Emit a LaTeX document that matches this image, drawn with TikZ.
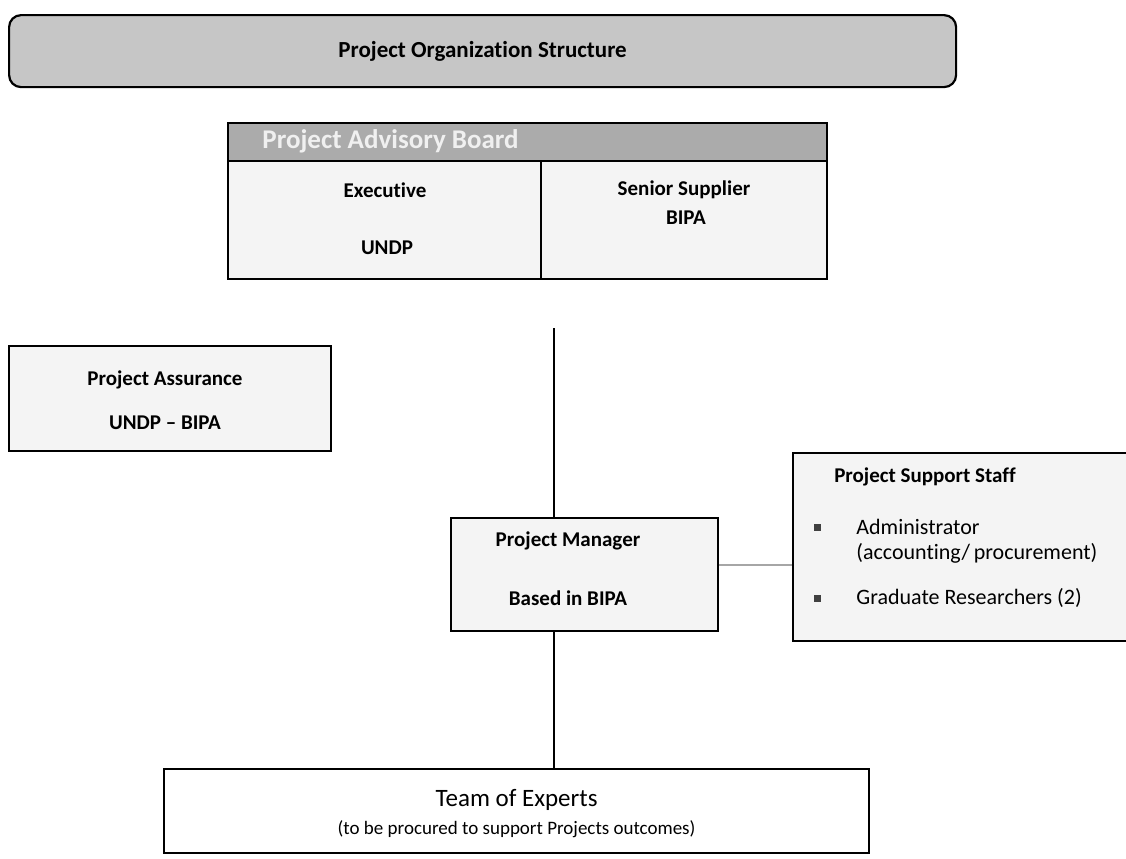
\documentclass[tikz,border=0pt]{standalone}
\usepackage{fontspec}
\setmainfont{Carlito}[Ligatures=NoCommon]
\usetikzlibrary{positioning}
\begin{document}
\begin{tikzpicture}[x=0.5pt,y=-0.5pt,
    frame/.style={draw,line width=1.1pt,fill=gray!9,inner sep=0pt,anchor=north west},
    head/.style={font=\bfseries\fontsize{10.5}{12}\selectfont,inner sep=0pt},
    txt/.style={font=\fontsize{11}{12}\selectfont,inner sep=0pt,anchor=west},
    dot/.style={fill=black!75,minimum size=3.5pt,inner sep=0pt},
    link/.style={line width=0.9pt}]
  \useasboundingbox (0,0) rectangle (1126,858);
  % title
  \node[frame,fill=gray!45,rounded corners=6pt,minimum width=473.5pt,minimum height=36pt] (title) at (8,14) {};
  \node[head,font=\bfseries\fontsize{11.5}{14}\selectfont] (titletext) at (title.center) {Project Organization Structure};
  % advisory board
  \node[frame,fill=gray!66,minimum width=299.5pt,minimum height=19pt] (board) at (227,122) {};
  \node[head,anchor=west,font=\bfseries\fontsize{13.5}{15}\selectfont,text=gray!12] (boardtext) at (262,141) {Project Advisory Board};
  \node[frame,minimum width=156.5pt,minimum height=59pt] (exec) at (227,160) {};
  \node[frame,minimum width=143pt,minimum height=59pt] (supp) at (540,160) {};
  \node[head] (exectext) at (385,190) {Executive};
  \node[head] (execorg) at (387,248) {UNDP};
  \node[head] (supptext) at (684,190) {Senior Supplier};
  \node[head] (supporg) at (686,218) {BIPA};
  % assurance
  \node[frame,minimum width=161pt,minimum height=52.5pt] (assur) at (8,345) {};
  \node[head] (assurtext) at (165,380) {Project Assurance};
  \node[head] (assurorg) at (165,423) {UNDP -- BIPA};
  % manager
  \node[frame,minimum width=133.5pt,minimum height=56.5pt] (pm) at (450,517) {};
  \node[head] (pmtext) at (568,541) {Project Manager};
  \node[head] (pmbase) at (568,598) {Based in BIPA};
  % support staff
  \node[frame,minimum width=170pt,minimum height=94pt] (staff) at (792,452) {};
  \node[head] (stafftext) at (925,477) {Project Support Staff};
  \node[dot] (b1) at (817,527) {};
  \node[dot] (b2) at (817,598) {};
  \node[txt] (admin) at (856,527) {Administrator};
  \node[txt] (adminrole) at (856,553) {(accounting/\,procurement)};
  \node[txt] (grad) at (856,598) {Graduate Researchers (2)};
  % experts
  \node[frame,fill=white,minimum width=352.5pt,minimum height=42pt] (team) at (163,768) {};
  \node[inner sep=0pt,font=\fontsize{12.5}{14}\selectfont] (teamtext) at (team.center |- 0,800) {Team of Experts};
  \node[inner sep=0pt,font=\fontsize{9.5}{12}\selectfont] (teamnote) at (team.center |- 0,829) {(to be procured to support Projects outcomes)};
  % lines
  \coordinate (top) at (554,328);
  \draw[link] (top) -- (top |- pm.north);
  \draw[link] (top |- pm.south) -- (top |- team.north);
  \draw[link,gray!70] (pm.east |- 0,565) -- (staff.west |- 0,565);
\end{tikzpicture}
\end{document}
